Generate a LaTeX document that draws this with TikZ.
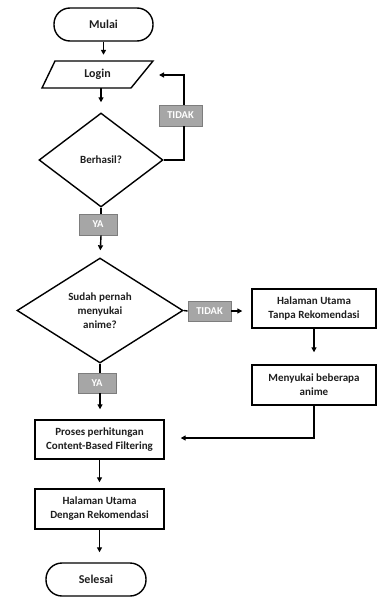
\documentclass[tikz,border=0pt]{standalone}
\usepackage{fontspec}
\setmainfont{Carlito}
\usetikzlibrary{shapes.geometric,arrows.meta}
\definecolor{lblfill}{RGB}{166,166,166}
\definecolor{lbldraw}{RGB}{125,125,125}
\definecolor{txt}{RGB}{30,30,30}
\tikzset{
  every node/.style={text=txt},
  term/.style={draw, line width=1.4pt, rounded corners=16pt, minimum width=99pt, minimum height=33pt, inner sep=0pt, font=\fontsize{12}{14}\selectfont\bfseries},
  procbox/.style={draw, line width=1.4pt, minimum width=129pt, minimum height=39pt, inner sep=0pt, align=center, font=\fontsize{11}{14}\selectfont\bfseries},
  sidebox/.style={procbox, minimum width=124pt},
  decide/.style={draw, diamond, line width=1.4pt, inner sep=0pt, align=center, font=\fontsize{11}{14}\selectfont\bfseries},
  lbl/.style={draw=lbldraw, fill=lblfill, line width=0.8pt, text=white, inner sep=0pt, minimum height=20pt, font=\fontsize{10.5}{11}\selectfont\bfseries},
  conn/.style={line width=1.4pt, -{Triangle[width=5pt,length=5pt]}},
  plain/.style={line width=1.4pt},
}
\begin{document}
\begin{tikzpicture}[x=1pt,y=-1pt]
\useasboundingbox (0,0) rectangle (377,597);
% nodes
\node[term] (mulai) at (103.5,24.5) {Mulai};
\draw[line width=1.4pt] (55,61) -- (153,61) -- (131,88) -- (42,88) -- cycle;
\node[font=\fontsize{12}{14}\selectfont\bfseries, minimum width=89pt, minimum height=27pt, inner sep=0pt] (login) at (97.5,74.5) {Login};
\node[decide, minimum width=124pt, minimum height=94pt] (d1) at (101,160) {Berhasil?};
\node[decide, minimum width=166pt, minimum height=105pt] (d2) at (100,310.5) {Sudah pernah\\menyukai\\anime?};
\node[sidebox] (h1) at (314,308.5) {Halaman Utama\\Tanpa Rekomendasi};
\node[sidebox, minimum height=40pt] (h2) at (314,385) {Menyukai beberapa\\anime};
\node[procbox] (proc) at (99.5,439.5) {Proses perhitungan\\Content-Based Filtering};
\node[procbox, minimum height=40pt] (hasil) at (99.5,509) {Halaman Utama\\Dengan Rekomendasi};
\node[term, minimum width=100pt] (selesai) at (96,579.5) {Selesai};
% labels
\node[lbl, minimum width=43pt, minimum height=21pt] (tidak1) at (180.5,115.5) {TIDAK};
\node[lbl, minimum width=38pt, minimum height=21pt] (ya1) at (98,224.5) {YA};
\node[lbl, minimum width=43pt] (tidak2) at (209.5,311) {TIDAK};
\node[lbl, minimum width=38pt] (ya2) at (97,383) {YA};
\coordinate (loopin) at (159,75);
\coordinate (loopx) at (184,160);
\coordinate (h2turn) at (318,438);
% connectors
\draw[conn, shorten >=6pt] (mulai.south) -- (mulai.south |- login.north);
\draw[conn, shorten >=10pt] (login.south -| d1.north) -- (d1.north);
\draw[plain] (d1.east) -- (loopx) -- (loopx |- tidak1.south);
\draw[conn] (loopx |- tidak1.north) -- (loopx |- loopin) -- (loopin);
\draw[plain] (d1.south) -- (d1.south |- ya1.north);
\draw[conn, shorten >=7pt] (d1.south |- ya1.south) -- (d2.north);
\draw[plain] (d2.east) -- (tidak2.west);
\draw[conn, shorten >=9pt] (tidak2.east) -- (tidak2.east -| h1.west);
\draw[plain] (d2.south) -- (d2.south |- ya2.north);
\draw[conn, shorten >=10pt] (d2.south |- ya2.south) -- (d2.south |- proc.north);
\draw[conn, shorten >=12pt] (h1.south) -- (h2.north);
\draw[conn, shorten >=16pt] (h2.south) -- (h2.south |- h2turn) -- (h2turn -| proc.east);
\draw[conn, shorten >=6pt] (proc.south) -- (hasil.north);
\draw[conn, shorten >=10pt] (hasil.south) -- (hasil.south |- selesai.north);
\end{tikzpicture}
\end{document}
